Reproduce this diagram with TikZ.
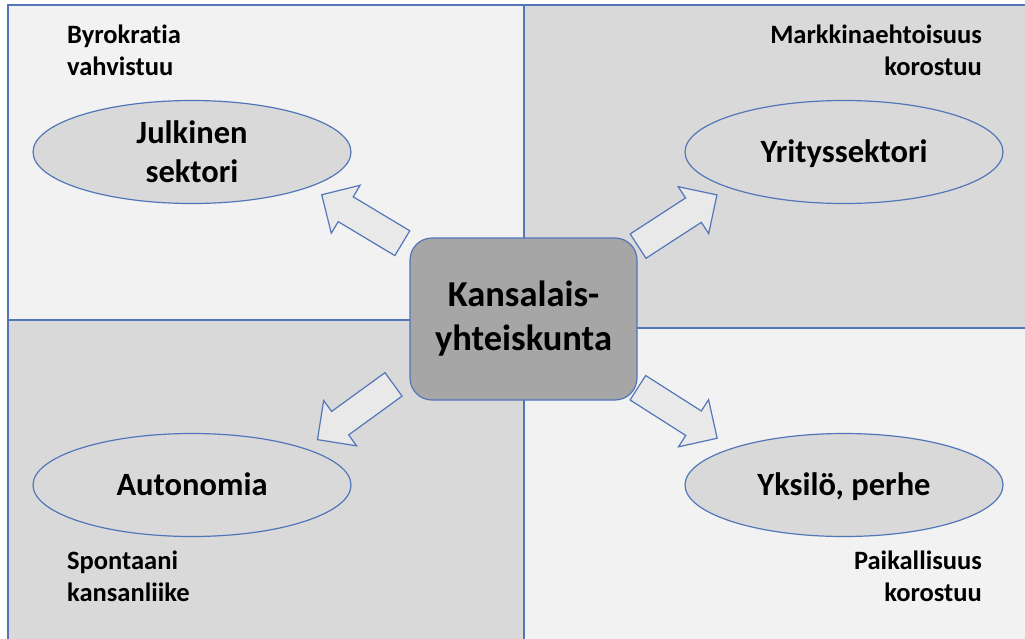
\documentclass[tikz,border=0pt]{standalone}
\usepackage{fontspec}
\setmainfont[Ligatures=NoCommon]{Carlito}
\usetikzlibrary{shapes.geometric}
\definecolor{bl}{HTML}{5177B9}
\definecolor{lightbg}{HTML}{F2F2F2}
\definecolor{darkbg}{HTML}{D9D9D9}
\definecolor{ellfill}{HTML}{D9D9D9}
\definecolor{centerfill}{HTML}{A6A6A6}
\definecolor{arrfill}{HTML}{E9E9E9}
\begin{document}
\begin{tikzpicture}[x=1pt,y=1pt,
  quad/.style={draw=bl, line width=1.2pt},
  ell/.style={ellipse, draw=bl, line width=1.2pt, fill=ellfill, minimum width=318pt, minimum height=103pt, inner sep=0pt, align=center, font=\bfseries\fontsize{32.5}{39}\selectfont},
  oneline/.style={text height=24pt, text depth=4pt},
  centerbox/.style={rectangle, rounded corners=22pt, draw=bl, line width=1.2pt, fill=centerfill, minimum width=227pt, minimum height=162pt, inner sep=0pt, align=center, font=\bfseries\fontsize{36.5}{44}\selectfont},
  blockarr/.pic={\draw[draw=bl, line width=1.2pt, fill=arrfill, line join=miter]
     (-47,-14.5) -- (19,-14.5) -- (19,-28) -- (47,0) -- (19,28) -- (19,14.5) -- (-47,14.5) -- cycle;},
  lbl/.style={inner sep=0pt, font=\bfseries\fontsize{26.5}{32}\selectfont}
]
\useasboundingbox (0,0) rectangle (1025,-638);
% quadrants
\draw[quad, fill=lightbg] (8,-5) rectangle (524,-320);
\draw[quad, fill=darkbg] (524,-5) rectangle (1045,-328);
\draw[quad, fill=darkbg] (8,-320) rectangle (524,-660);
\draw[quad, fill=lightbg] (524,-328) rectangle (1045,-660);
% centre
\node[centerbox] (ks) at (523.5,-319) {Kansalais-\\yhteiskunta};
% ellipses
\node[ell] (jul) at (192,-152) {Julkinen\\sektori};
\node[ell, oneline] (yri) at (844,-152) {Yrityssektori};
\node[ell, oneline] (aut) at (192,-485) {Autonomia};
\node[ell, oneline] (yks) at (844,-485) {Yksilö, perhe};
% block arrows
\pic[rotate=149] (a1) at (362,-219) {blockarr};
\pic[rotate=33] (a2) at (677.5,-220.5) {blockarr};
\pic[rotate=216] (a3) at (355.5,-412) {blockarr};
\pic[rotate=-32.5] (a4) at (677.5,-413) {blockarr};
% corner labels
\node[lbl, anchor=north west, align=left] (l1) at (67,-25) {Byrokratia\\vahvistuu};
\node[lbl, anchor=north east, align=right] (l2) at (982,-25) {Markkinaehtoisuus\\korostuu};
\node[lbl, anchor=north west, align=left] (l3) at (67,-551) {Spontaani\\kansanliike};
\node[lbl, anchor=north east, align=right] (l4) at (982,-551) {Paikallisuus\\korostuu};
\end{tikzpicture}
\end{document}
